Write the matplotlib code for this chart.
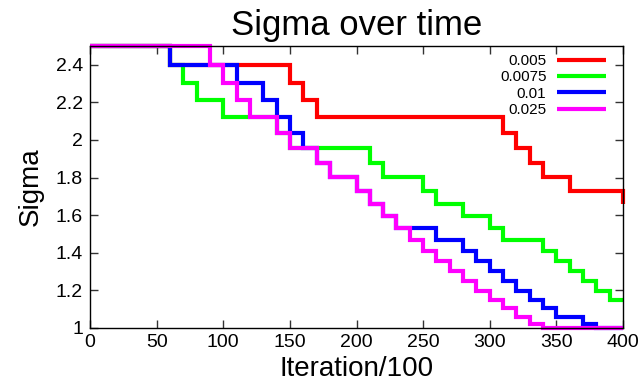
import matplotlib
matplotlib.use("Agg")
import matplotlib.pyplot as plt

plt.rcParams['font.family'] = ['Liberation Sans', 'DejaVu Sans']

labels = ["0.005", "0.0075", "0.01", "0.025"]
colors = ["#ff0000", "#00ff00", "#0000ff", "#ff00ff"]

red_x = [0, 60, 150, 160, 170, 310, 320, 330, 340, 360, 400]
red_y = [2.5, 2.4, 2.304, 2.212, 2.123, 2.038, 1.957, 1.878, 1.803, 1.731, 1.662]

green_x = [0, 60, 70, 80, 100, 140, 150, 210, 220, 250, 260, 280, 300, 310,
           340, 350, 360, 370, 380, 390, 400]
green_y = [2.5, 2.4, 2.304, 2.212, 2.123, 2.038, 1.957, 1.878, 1.803, 1.731,
           1.662, 1.595, 1.532, 1.470, 1.411, 1.355, 1.301, 1.249, 1.199,
           1.151, 1.151]

blue_x = [0, 60, 110, 130, 140, 150, 160, 170, 180, 200, 210, 220, 230, 260,
          280, 290, 300, 310, 320, 330, 340, 350, 370, 380, 400]
blue_y = [2.5, 2.4, 2.304, 2.212, 2.123, 2.038, 1.957, 1.878, 1.803, 1.731,
          1.662, 1.595, 1.532, 1.470, 1.411, 1.355, 1.301, 1.249, 1.199,
          1.151, 1.105, 1.061, 1.019, 1.0, 1.0]

magenta_x = [0, 90, 100, 110, 120, 140, 150, 170, 180, 200, 210, 220, 230,
             240, 250, 260, 270, 280, 290, 300, 310, 320, 330, 340, 400]
magenta_y = [2.5, 2.4, 2.304, 2.212, 2.123, 2.038, 1.957, 1.878, 1.803, 1.731,
             1.662, 1.595, 1.532, 1.470, 1.411, 1.355, 1.301, 1.249, 1.199,
             1.151, 1.105, 1.061, 1.019, 1.0, 1.0]

xticks = [0, 50, 100, 150, 200, 250, 300, 350, 400]
yticks = [1, 1.2, 1.4, 1.6, 1.8, 2, 2.2, 2.4]
ytick_labels = ["1", "1.2", "1.4", "1.6", "1.8", "2", "2.2", "2.4"]

fig = plt.figure(figsize=(6.43, 3.85), dpi=100)
ax = fig.add_axes([90/643, 1-328/385, 533/643, 282/385])

series = [(red_x, red_y), (green_x, green_y), (blue_x, blue_y), (magenta_x, magenta_y)]
for (xs, ys), lab, col in zip(series, labels, colors):
    ax.step(xs, ys, where='post', color=col, lw=3.0, label=lab,
            clip_on=False, solid_joinstyle='miter', solid_capstyle='butt')

ax.set_xlim(0, 400)
ax.set_ylim(1, 2.5)
ax.set_xticks(xticks)
ax.set_xticklabels([str(t) for t in xticks])
ax.set_yticks(yticks)
ax.set_yticklabels(ytick_labels)
ax.tick_params(direction='in', length=6, width=1, labelsize=14,
               top=True, right=True, color='#333333')
ax.tick_params(axis='x', pad=4)
ax.tick_params(axis='y', pad=5)
for s in ax.spines.values():
    s.set_linewidth(1)
    s.set_color('black')

ax.set_title("Sigma over time", fontsize=25, pad=8)
ax.set_xlabel("Iteration/100", fontsize=20, labelpad=4)
ax.set_ylabel("Sigma", fontsize=20, labelpad=9)

leg = ax.legend(loc='upper right', bbox_to_anchor=(606/643, 1-54/385),
                bbox_transform=fig.transFigure, frameon=False,
                markerfirst=False, fontsize=11, handlelength=3.2,
                handletextpad=0.7, labelspacing=0.15, borderpad=0,
                borderaxespad=0)

fig.savefig("out.png", dpi=100)
